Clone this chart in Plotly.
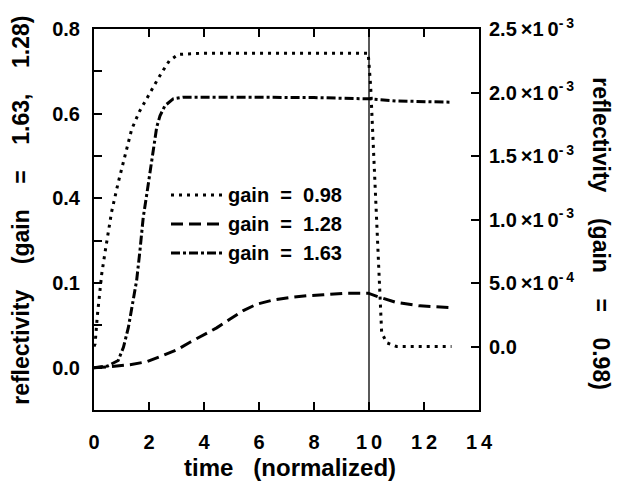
import plotly.graph_objects as go

# Reflectivity vs normalized time for three gain values.
# gain = 0.98 is plotted on the right axis (values in units of 1e-3),
# gains 1.28 and 1.63 on the left axis.

time_098 = [0.0, 0.04, 0.12, 0.20, 0.28, 0.40, 0.64, 0.88, 1.16, 1.37, 1.65, 1.85,
            2.10, 2.28, 2.50, 2.74, 3.07, 4.0, 6.0, 8.0, 9.97, 10.06, 10.13, 10.22,
            10.30, 10.37, 10.46, 10.64, 11.0, 13.0]
refl_098_milli = [0.00, 0.02, 0.24, 0.43, 0.57, 0.74, 1.06, 1.29, 1.53, 1.71, 1.85, 1.93,
                  2.02, 2.09, 2.17, 2.25, 2.30, 2.31, 2.31, 2.31, 2.31, 2.05, 1.70, 1.34,
                  0.95, 0.53, 0.11, 0.03, 0.00, 0.00]

time_128 = [0.0, 0.58, 1.31, 1.92, 2.40, 3.01, 3.49, 3.97, 4.46, 4.95, 5.43, 5.92,
            6.52, 7.13, 7.73, 8.34, 8.95, 9.19, 9.97, 10.4, 11.0, 11.85, 13.0]
refl_128 = [0.000, 0.002, 0.007, 0.014, 0.026, 0.042, 0.060, 0.076, 0.094, 0.115, 0.135, 0.150,
            0.160, 0.166, 0.170, 0.172, 0.174, 0.176, 0.176, 0.166, 0.154, 0.146, 0.142]

time_163 = [0.0, 0.5, 0.88, 1.07, 1.25, 1.37, 1.55, 1.67, 1.79, 1.92, 2.04, 2.16,
            2.28, 2.40, 2.58, 2.88, 3.25, 5.0, 8.0, 10.0, 11.0, 13.0]
refl_163 = [0.000, 0.004, 0.017, 0.048, 0.095, 0.142, 0.206, 0.276, 0.355, 0.410, 0.465, 0.520,
            0.568, 0.595, 0.619, 0.635, 0.639, 0.639, 0.638, 0.635, 0.630, 0.627]

gain_labels = ["0.98", "1.28", "1.63"]

x_tickvals = [0, 2, 4, 6, 8, 10, 12, 14]
x_ticktext = ["0", "2", "4", "6", "8", "1\u20090", "1\u20092", "1\u20094"]

left_tickvals = [0.0, 0.2, 0.4, 0.6, 0.8]
left_ticktext = ["0.0", "0.1", "0.4", "0.6", "0.8"]
left_minor_ticks = [0.1, 0.3, 0.5, 0.7]

right_tickvals = [0.0, 5e-4, 1.0e-3, 1.5e-3, 2.0e-3, 2.5e-3]
right_ticktext = ["0.0"] + [
    f"{m}\u2009×1\u20090<sup>-\u2009{e}</sup>"
    for m, e in [("5.0", 4), ("1.0", 3), ("1.5", 3), ("2.0", 3), ("2.5", 3)]
]

marker_time = 10.0

FONT = "Liberation Sans, Arial, Helvetica, sans-serif"
SP = "\u00a0"
GAP = SP * 4

styles = [
    dict(color="black", width=3, dash="3px,5px"),
    dict(color="black", width=3, dash="12px,6px"),
    dict(color="black", width=3, dash="9px,3px,3px,3px"),
]

fig = go.Figure()

fig.add_trace(go.Scatter(
    x=time_098, y=[v * 1e-3 for v in refl_098_milli], yaxis="y2",
    mode="lines", line=styles[0], name=f"gain = {gain_labels[0]}",
))
fig.add_trace(go.Scatter(
    x=time_128, y=refl_128, yaxis="y",
    mode="lines", line=styles[1], name=f"gain = {gain_labels[1]}",
))
fig.add_trace(go.Scatter(
    x=time_163, y=refl_163, yaxis="y",
    mode="lines", line=styles[2], name=f"gain = {gain_labels[2]}",
))

# vertical marker at t = 10
fig.add_shape(type="line", xref="x", yref="paper", x0=marker_time, x1=marker_time,
              y0=0, y1=1, line=dict(color="black", width=1.3))

# key inside the plot: line sample + label for each gain
key_x0, key_x1, key_text_x = 0.200, 0.335, 0.343
key_y_top, key_y_step = 0.564, 0.0761
annotations = []
for i, (lab, st) in enumerate(zip(gain_labels, styles)):
    ky = key_y_top - i * key_y_step
    fig.add_shape(type="line", xref="paper", yref="paper",
                  x0=key_x0, x1=key_x1, y0=ky, y1=ky, line=st)
    annotations.append(dict(
        text=f"gain{SP*2}={SP*2}{lab}", xref="paper", yref="paper",
        x=key_text_x, y=ky, xanchor="left", yanchor="middle", showarrow=False,
        font=dict(family=FONT, size=20, color="black", weight="bold")))

title_font = dict(family=FONT, size=23, color="black", weight="bold")
annotations += [
    dict(text=f"time{SP*3}(normalized)", xref="paper", yref="paper",
         x=0.509, y=-0.152, xanchor="center", yanchor="middle", showarrow=False,
         font=dict(family=FONT, size=24, color="black", weight="bold")),
    dict(text=f"reflectivity{GAP}(gain{GAP}={GAP}1.63,{GAP}1.28)",
         xref="paper", yref="paper", x=-0.19, y=0.525,
         xanchor="center", yanchor="middle", textangle=-90, showarrow=False,
         font=title_font),
    dict(text=f"reflectivity{GAP}(gain{GAP}={GAP}0.98)",
         xref="paper", yref="paper", x=1.316, y=0.462,
         xanchor="center", yanchor="middle", textangle=90, showarrow=False,
         font=title_font),
]

axis_common = dict(
    ticks="inside", ticklen=8, tickwidth=1.5, tickcolor="black",
    showline=True, linewidth=2, linecolor="black",
    showgrid=False, zeroline=False,
    tickfont=dict(family=FONT, size=20, color="black", weight="bold"),
)

fig.update_layout(
    width=621, height=484, autosize=False,
    margin=dict(l=94, r=142, t=29, b=74, pad=0),
    paper_bgcolor="white", plot_bgcolor="white",
    font=dict(family=FONT, color="black"),
    xaxis=dict(
        range=[0, 14], tickvals=x_tickvals, ticktext=x_ticktext,
        mirror="ticks", ticklabelstandoff=13,
        **axis_common,
    ),
    yaxis=dict(
        range=[-0.1, 0.8], tickvals=left_tickvals, ticktext=left_ticktext,
        ticklabelstandoff=8,
        minor=dict(tickvals=left_minor_ticks, ticks="inside", ticklen=8,
                   tickwidth=1.5, tickcolor="black", showgrid=False),
        **axis_common,
    ),
    yaxis2=dict(
        range=[-5e-4, 2.5e-3], tickvals=right_tickvals, ticktext=right_ticktext,
        overlaying="y", side="right", ticklabelstandoff=4,
        **axis_common,
    ),
    showlegend=False,
    annotations=annotations,
)

fig.write_html("out.html")
